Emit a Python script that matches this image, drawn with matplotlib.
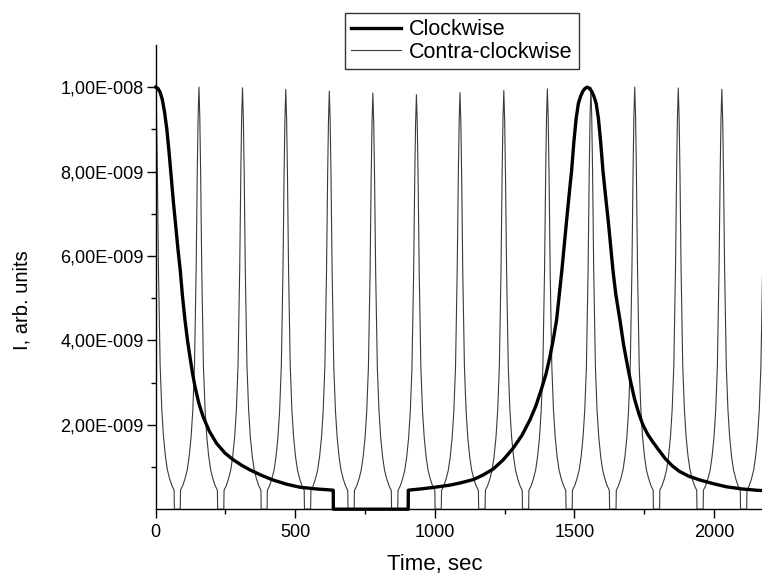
import numpy as np
import matplotlib
matplotlib.use("Agg")
import matplotlib.pyplot as plt
from matplotlib.ticker import FixedLocator, FuncFormatter

plt.rcParams['font.family'] = ['Liberation Sans', 'DejaVu Sans']

# Clockwise curve (time in sec, intensity in 1e-9 units)
cw_time = [0, 8, 16, 24, 32, 40, 48, 56, 64, 72, 80, 88, 96, 105, 114, 123,
           132, 141, 155, 170, 192, 218, 248, 278, 308, 338, 380, 421, 470,
           517, 575, 636, 636.5, 904.5,
           905, 950, 1000, 1054, 1090, 1137, 1170, 1209, 1245, 1281, 1312,
           1341, 1362, 1382, 1398, 1412, 1425, 1436, 1446, 1455, 1463, 1472,
           1481, 1490, 1498, 1506, 1514, 1522, 1530, 1538, 1546,
           1554, 1562, 1570, 1578, 1586, 1594, 1602, 1611, 1621, 1630, 1638,
           1648, 1663, 1676, 1690, 1702, 1715, 1730, 1745, 1762, 1780, 1800,
           1825, 1850, 1875, 1910, 1950, 2000, 2045, 2100, 2150, 2200]
cw_val = [10.0, 9.97, 9.88, 9.7, 9.4, 9.0, 8.45, 7.85, 7.24, 6.7, 6.15, 5.66,
          5.05, 4.48, 4.0, 3.6, 3.22, 2.9, 2.5, 2.19, 1.85, 1.56, 1.33, 1.17,
          1.04, 0.93, 0.8, 0.69, 0.59, 0.52, 0.48, 0.45, 0.0, 0.0,
          0.45, 0.48, 0.52, 0.57, 0.62, 0.7, 0.8, 0.95, 1.17, 1.45, 1.75,
          2.12, 2.45, 2.85, 3.2, 3.6, 4.05, 4.48, 5.1, 5.66, 6.22, 6.84,
          7.45, 8.03, 8.7, 9.25, 9.61, 9.78, 9.9, 9.97, 10.0,
          9.97, 9.9, 9.78, 9.61, 9.25, 8.7, 8.03, 7.45, 6.84, 6.22, 5.66,
          5.1, 4.48, 3.9, 3.4, 3.0, 2.62, 2.28, 2.0, 1.78, 1.6, 1.42,
          1.2, 1.03, 0.9, 0.78, 0.69, 0.6, 0.53, 0.48, 0.45, 0.43]

# Contra-clockwise: peak positions / heights and the shape of one spike
ccw_peak_time = [0, 155, 311, 466, 622, 778, 934, 1090, 1247, 1403, 1559,
                 1716, 1872, 2028, 2184]
ccw_peak_val = [10.0, 10.0, 9.985, 9.945, 9.905, 9.86, 9.82, 9.87, 9.92,
                9.96, 10.0, 10.0, 9.98, 9.95, 9.95]
spike_dt = [0, 3, 6, 10, 16, 22, 28, 35, 42, 50, 58, 66, 67]
spike_val = [10.0, 9.3, 8.0, 5.7, 3.4, 2.35, 1.72, 1.25, 0.93, 0.72, 0.56, 0.45, 0.0]

xticks = [0, 500, 1000, 1500, 2000]
yticks = [2e-9, 4e-9, 6e-9, 8e-9, 1e-8]

ccw_time = []
ccw_val = []
for tp, hp in zip(ccw_peak_time, ccw_peak_val):
    k = hp / 10.0
    for dt, v in zip(spike_dt[::-1], spike_val[::-1]):
        ccw_time.append(tp - dt)
        ccw_val.append(v * k)
    for dt, v in zip(spike_dt[1:], spike_val[1:]):
        ccw_time.append(tp + dt)
        ccw_val.append(v * k)

cw_y = np.array(cw_val) * 1e-9
ccw_y = np.array(ccw_val) * 1e-9

fig = plt.figure(figsize=(7.62, 5.76), dpi=100)
ax = fig.add_axes([0.2043, 0.116, 0.806, 0.806])

ax.plot(ccw_time, ccw_y, color="#3a3a3a", lw=0.8, label="Contra-clockwise")
ax.plot(cw_time, cw_y, color="black", lw=2.4, label="Clockwise",
        solid_joinstyle="round", clip_on=False, zorder=3)

ax.set_xlim(0, 2200)
ax.set_ylim(0, 1.1e-8)

ax.spines['top'].set_visible(False)
ax.spines['right'].set_visible(False)
for s in ('left', 'bottom'):
    ax.spines[s].set_linewidth(1.0)

ax.xaxis.set_major_locator(FixedLocator(xticks))
ax.xaxis.set_minor_locator(FixedLocator([250, 750, 1250, 1750]))
ax.yaxis.set_major_locator(FixedLocator(yticks))
ax.yaxis.set_minor_locator(FixedLocator([1e-9, 3e-9, 5e-9, 7e-9, 9e-9]))


def sci_comma(v, pos):
    mant, ex = ("%.2E" % v).split("E")
    return "%sE%04d" % (mant.replace(".", ","), int(ex))


ax.yaxis.set_major_formatter(FuncFormatter(sci_comma))
ax.tick_params(which='major', direction='out', length=6.5, width=1.0,
               labelsize=13)
ax.tick_params(which='minor', direction='out', length=3.6, width=1.0)
ax.tick_params(axis='x', pad=4)
ax.tick_params(axis='y', pad=2)

ax.set_xlabel("Time, sec", fontsize=16, va='center')
ax.xaxis.set_label_coords((435 - 155.7) / 614.2, -(565 - 509.2) / 464.2)
ax.set_ylabel("I, arb. units", fontsize=14.5, va='center')
ax.yaxis.set_label_coords(-(155.7 - 22) / 614.2, (509.2 - 300) / 464.2)

handles, labels = ax.get_legend_handles_labels()
leg = fig.legend(handles[::-1], labels[::-1], loc='upper left',
                 bbox_to_anchor=(345 / 762, 1 - 13 / 576),
                 borderaxespad=0, fontsize=15.5, frameon=True, fancybox=False,
                 edgecolor='black', handlelength=2.3, handletextpad=0.37,
                 labelspacing=0.05, borderpad=0.3)
leg.get_frame().set_linewidth(1.0)

fig.savefig("out.png", dpi=100)
